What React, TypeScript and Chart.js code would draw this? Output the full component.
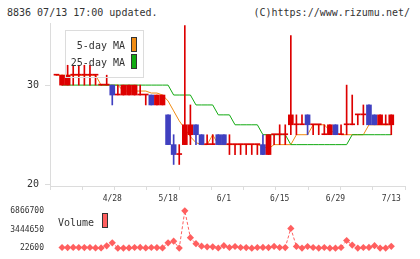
import React, { useEffect, useRef } from 'react';
import { Chart, registerables } from 'chart.js';

Chart.register(...registerables);

// ---- data ----
const dates = [
  '4/14', '4/15', '4/18', '4/19', '4/20', '4/21', '4/22', '4/25', '4/26', '4/27', '4/28',
  '5/2', '5/6', '5/9', '5/10', '5/11', '5/12', '5/13', '5/16', '5/17', '5/18',
  '5/19', '5/20', '5/23', '5/24', '5/25', '5/26', '5/27', '5/30', '5/31', '6/1',
  '6/2', '6/3', '6/6', '6/7', '6/8', '6/9', '6/10', '6/13', '6/14', '6/15',
  '6/16', '6/17', '6/20', '6/21', '6/22', '6/23', '6/24', '6/27', '6/28', '6/29',
  '6/30', '7/1', '7/4', '7/5', '7/6', '7/7', '7/8', '7/11', '7/12', '7/13',
];

const opens = [
  31, 30, 30, 31, 31, 31, 31, 31, 30, 30,
  30, 29, 29, 29, 29, 29, 29, 29, 28, 28,
  27, 24, 23, 24, 25, 26, 25, 24, 24, 25,
  25, 24, 24, 24, 24, 24, 24, 24, 23, 25,
  25, 25, 26, 26, 26, 27, 26, 26, 25, 25,
  26, 25, 26, 26, 27, 27, 28, 27, 26, 26,
  26,
];
const highs = [
  31, 31, 32, 32, 32, 32, 32, 31, 30, 31,
  30, 30, 30, 30, 30, 30, 29, 29, 29, 29,
  27, 25, 24, 36, 28, 26, 25, 25, 25, 25,
  25, 25, 24, 24, 24, 24, 24, 25, 25, 25,
  26, 26, 35, 27, 27, 27, 26, 26, 26, 26,
  26, 26, 30, 29, 27, 28, 28, 27, 27, 27,
  27,
];
const lows = [
  31, 30, 30, 30, 30, 30, 30, 30, 30, 30,
  28, 29, 29, 29, 29, 29, 28, 28, 28, 28,
  24, 22, 22, 24, 24, 24, 24, 24, 24, 24,
  24, 23, 23, 23, 23, 23, 23, 23, 23, 24,
  24, 24, 25, 25, 26, 25, 25, 25, 25, 25,
  25, 25, 25, 26, 26, 26, 26, 26, 26, 26,
  25,
];
const closes = [
  31, 31, 31, 31, 31, 31, 31, 31, 30, 30,
  29, 29, 30, 30, 30, 29, 29, 28, 29, 29,
  24, 23, 23, 26, 26, 25, 24, 24, 24, 24,
  24, 24, 24, 24, 24, 24, 24, 23, 25, 25,
  25, 25, 27, 26, 26, 26, 26, 26, 25, 26,
  25, 25, 26, 26, 27, 27, 26, 26, 27, 26,
  27,
];

const ma5 = [
  31, 31, 31, 31, 31, 31, 31, 31, 30, 30,
  30, 30, 29.4, 29.4, 29.4, 29.4, 29.4, 29.2, 29.2, 29,
  28.4, 27.4, 26.4, 25.6, 24.8, 24.2, 24, 24, 25, 24,
  24, 24, 24, 24, 24, 24, 24, 23.8, 23.6, 24,
  24, 24, 24, 25, 25, 25, 26, 26, 26, 25.4,
  25.2, 25, 25, 25, 25, 25, 26, 26, 26, 26,
  26,
];
const ma25 = [
  null, 30, 30, 30, 30, 30, 30, 30, 30, 30,
  30, 30, 30, 30, 30, 30, 30, 30, 30, 30,
  30, 29, 29, 29, 29, 28, 28, 28, 28, 27,
  27, 27, 26, 26, 26, 26, 26, 25, 25, 25,
  25, 25, 24, 24, 24, 24, 24, 24, 24, 24,
  24, 24, 24, 25, 25, 25, 25, 25, 25, 25,
  25,
];

// volume from dates[1] to dates[60]
const volumes = [
  150000, 140000, 160000, 150000, 140000, 150000, 80000, 70000, 450000, 1000000,
  30000, 40000, 70000, 150000, 160000, 80000, 150000, 140000, 80000, 1000000,
  1300000, 40000, 6866700, 1950000, 850000, 400000, 280000, 270000, 60000, 480000,
  150000, 330000, 150000, 140000, 30000, 150000, 160000, 140000, 350000, 150000,
  140000, 3650000, 350000, 40000, 330000, 150000, 40000, 150000, 30000, 22600,
  150000, 1430000, 600000, 40000, 150000, 160000, 480000, 40000, 50000, 370000,
];

const priceTicks = [20, 30];
const dateTickIdx = [10, 20, 30, 40, 50, 60];
const volTicks = [22600, 3444650, 6866700];

// ---- styles ----
const RED = '#dd0000';
const BLUE = '#4040c0';
const ORANGE = '#f08c14';
const GREEN = '#11aa11';
const VOL = '#ff5f5f';
const AXIS = '#dcdcdc';
const TEXT = '#333333';
const FONT = "'DejaVu Sans Mono', monospace";

const X_MIN = -1.16;
const X_MAX = 62.46;
const Y_MIN = 19.83;
const Y_MAX = 36.26;

const idx = dates.map((_, i) => i);
const candleColor = (i: number) => (closes[i] >= opens[i] ? RED : BLUE);

function mainConfig(): any {
  return {
    type: 'bar',
    data: {
      datasets: [
        {
          type: 'bar',
          label: 'body',
          data: idx.map((i) => ({ x: i, y: [opens[i], closes[i]] })),
          backgroundColor: idx.map(candleColor),
          borderWidth: 0,
          barThickness: 5,
          minBarLength: 1,
          grouped: false,
          order: 0,
        },
        {
          type: 'bar',
          label: 'wick',
          data: idx.map((i) => ({ x: i, y: [lows[i], highs[i]] })),
          backgroundColor: idx.map(candleColor),
          borderWidth: 0,
          barThickness: 1,
          grouped: false,
          order: 1,
        },
        {
          type: 'line',
          label: '25-day MA',
          data: idx.map((i) => ({ x: i, y: ma25[i] })),
          borderColor: GREEN,
          borderWidth: 1,
          pointRadius: 0,
          order: 2,
        },
        {
          type: 'line',
          label: '5-day MA',
          data: idx.map((i) => ({ x: i, y: ma5[i] })),
          borderColor: ORANGE,
          borderWidth: 1,
          pointRadius: 0,
          order: 3,
        },
      ],
    },
    options: {
      animation: false,
      responsive: false,
      maintainAspectRatio: false,
      events: [],
      layout: { padding: { top: 23, right: 15, left: 0, bottom: 0 } },
      plugins: { legend: { display: false }, tooltip: { enabled: false } },
      scales: {
        x: {
          type: 'linear',
          min: X_MIN,
          max: X_MAX,
          offset: false,
          afterBuildTicks: (s: any) => {
            const step = (X_MAX - X_MIN) / 11;
            const grid = Array.from({ length: 12 }, (_, k) => ({ value: X_MIN + k * step }));
            s.ticks = grid.concat(dateTickIdx.map((v) => ({ value: v })));
          },
          ticks: {
            autoSkip: false,
            maxRotation: 0,
            padding: 4,
            color: TEXT,
            font: { family: FONT, size: 8 },
            callback: (v: any) => (dateTickIdx.includes(v) ? dates[v] : ''),
          },
          grid: {
            offset: false,
            drawOnChartArea: false,
            tickLength: 4,
            color: AXIS,
            tickColor: (ctx: any) =>
              ctx.tick && dateTickIdx.includes(ctx.tick.value) ? 'rgba(0,0,0,0)' : AXIS,
          },
          border: { color: AXIS },
          afterFit: (s: any) => {
            s.height = 20;
          },
        },
        y: {
          min: Y_MIN,
          max: Y_MAX,
          afterBuildTicks: (s: any) => {
            s.ticks = priceTicks.map((v) => ({ value: v }));
          },
          ticks: { padding: 6, color: TEXT, font: { family: FONT, size: 10 } },
          grid: { drawOnChartArea: false, tickLength: 5, color: AXIS },
          border: { color: AXIS },
          afterFit: (s: any) => {
            s.width = 50;
          },
        },
      },
    },
  };
}

function volConfig(): any {
  return {
    type: 'line',
    data: {
      datasets: [
        {
          label: 'Volume',
          data: volumes.map((v, i) => ({ x: i + 1, y: v })),
          borderColor: VOL,
          backgroundColor: VOL,
          borderWidth: 1,
          borderDash: [3, 2],
          pointStyle: 'rectRot',
          pointRadius: 3.6,
          pointBorderWidth: 0,
          pointBackgroundColor: VOL,
          clip: false,
        },
      ],
    },
    options: {
      animation: false,
      responsive: false,
      maintainAspectRatio: false,
      events: [],
      layout: { padding: { top: 10, right: 15, left: 0, bottom: 10 } },
      plugins: { legend: { display: false }, tooltip: { enabled: false } },
      scales: {
        x: { type: 'linear', display: false, min: X_MIN, max: X_MAX },
        y: {
          min: volTicks[0],
          max: volTicks[2],
          afterBuildTicks: (s: any) => {
            s.ticks = volTicks.map((v) => ({ value: v }));
          },
          ticks: {
            padding: 6,
            color: TEXT,
            font: { family: FONT, size: 8 },
            callback: (v: any) => String(v),
          },
          grid: { display: false, drawTicks: false },
          border: { display: false },
          afterFit: (s: any) => {
            s.width = 50;
          },
        },
      },
    },
  };
}

export default function App() {
  const mainRef = useRef<HTMLCanvasElement>(null);
  const volRef = useRef<HTMLCanvasElement>(null);

  useEffect(() => {
    const c1 = new Chart(mainRef.current as HTMLCanvasElement, mainConfig());
    const c2 = new Chart(volRef.current as HTMLCanvasElement, volConfig());
    return () => {
      c1.destroy();
      c2.destroy();
    };
  }, []);

  const txt: React.CSSProperties = {
    position: 'absolute',
    fontFamily: FONT,
    fontSize: 10,
    lineHeight: '12px',
    color: TEXT,
    whiteSpace: 'nowrap',
  };
  const box = (left: number, top: number, color: string): React.CSSProperties => ({
    position: 'absolute',
    left,
    top,
    width: 6,
    height: 15,
    boxSizing: 'border-box',
    border: '1px solid #333',
    background: color,
  });

  return (
    <div
      style={{
        position: 'fixed',
        left: 0,
        top: 0,
        width: 420,
        height: 259,
        background: '#fff',
        overflow: 'hidden',
      }}
    >
      <div style={{ ...txt, left: 7, top: 7 }}>8836 07/13 17:00 updated.</div>
      <div style={{ ...txt, right: 10, top: 7 }}>(C)https://www.rizumu.net/</div>

      <canvas
        ref={mainRef}
        width={420}
        height={206}
        style={{ position: 'absolute', left: 0, top: 0 }}
      />
      <canvas
        ref={volRef}
        width={420}
        height={59}
        style={{ position: 'absolute', left: 0, top: 200 }}
      />

      {/* price legend */}
      <div
        style={{
          position: 'absolute',
          left: 65,
          top: 30,
          width: 79,
          height: 48,
          boxSizing: 'border-box',
          border: '1px solid ' + AXIS,
        }}
      />
      <div style={{ ...txt, left: 0, width: 125, textAlign: 'right', top: 39.5 }}>5-day MA</div>
      <div style={box(131, 37, ORANGE)} />
      <div style={{ ...txt, left: 0, width: 125, textAlign: 'right', top: 56.5 }}>25-day MA</div>
      <div style={box(131, 54, GREEN)} />

      {/* volume legend */}
      <div style={{ ...txt, left: 58, top: 216.5 }}>Volume</div>
      <div style={box(101.5, 212.5, VOL)} />
    </div>
  );
}
